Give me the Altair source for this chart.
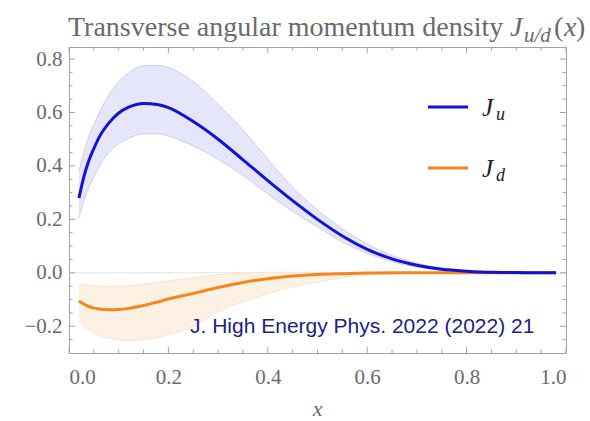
import altair as alt
import pandas as pd

# ---- data -------------------------------------------------------------
x_vals = [0.02, 0.03, 0.04, 0.05, 0.06, 0.08, 0.10, 0.12, 0.15, 0.18, 0.20,
          0.25, 0.30, 0.35, 0.40, 0.45, 0.50, 0.55, 0.60, 0.65, 0.70, 0.75,
          0.80, 0.85, 0.90, 0.95, 0.98]

ju_mid = [0.280, 0.360, 0.420, 0.465, 0.505, 0.560, 0.598, 0.620, 0.634, 0.629,
          0.618, 0.566, 0.500, 0.423, 0.345, 0.270, 0.200, 0.138, 0.088, 0.052,
          0.028, 0.013, 0.006, 0.002, 0.001, 0.000, 0.000]
ju_hi = [0.380, 0.450, 0.510, 0.555, 0.595, 0.665, 0.715, 0.748, 0.775, 0.776,
         0.768, 0.715, 0.630, 0.535, 0.425, 0.320, 0.235, 0.165, 0.108, 0.065,
         0.036, 0.018, 0.008, 0.003, 0.001, 0.000, 0.000]
ju_lo = [0.206, 0.270, 0.320, 0.360, 0.395, 0.450, 0.483, 0.503, 0.520, 0.520,
         0.512, 0.475, 0.425, 0.365, 0.295, 0.230, 0.172, 0.115, 0.073, 0.042,
         0.021, 0.010, 0.004, 0.002, 0.001, 0.000, 0.000]

jd_mid = [-0.105, -0.117, -0.126, -0.132, -0.135, -0.138, -0.137, -0.133, -0.122,
          -0.108, -0.098, -0.077, -0.055, -0.036, -0.022, -0.012, -0.006, -0.003,
          -0.001, 0.000, 0.000, 0.000, 0.000, 0.000, 0.000, 0.000, 0.000]
jd_hi = [-0.042, -0.045, -0.047, -0.049, -0.050, -0.051, -0.050, -0.048, -0.042,
         -0.035, -0.030, -0.017, -0.007, -0.001, 0.002, 0.002, 0.002, 0.001,
         0.001, 0.000, 0.000, 0.000, 0.000, 0.000, 0.000, 0.000, 0.000]
jd_lo = [-0.182, -0.200, -0.215, -0.225, -0.233, -0.245, -0.251, -0.253, -0.250,
         -0.242, -0.233, -0.200, -0.145, -0.108, -0.078, -0.053, -0.034, -0.018,
         -0.008, -0.004, -0.002, -0.001, 0.000, 0.000, 0.000, 0.000, 0.000]

x_major = [0.0, 0.2, 0.4, 0.6, 0.8, 1.0]
x_minor = [0.05, 0.10, 0.15, 0.25, 0.30, 0.35, 0.45, 0.50, 0.55, 0.65, 0.70,
           0.75, 0.85, 0.90, 0.95]
y_major = [-0.2, 0.0, 0.2, 0.4, 0.6, 0.8]
y_minor = [-0.25, -0.15, -0.10, -0.05, 0.05, 0.10, 0.15, 0.25, 0.30, 0.35,
           0.45, 0.50, 0.55, 0.65, 0.70, 0.75]

title_main = "Transverse angular momentum density"
title_sym = "J"
title_sub = "u/d"
title_arg = ["(", "x", ")"]
legend_names = ["J", "J"]
legend_subs = ["u", "d"]
source_note = "J. High Energy Phys. 2022 (2022) 21"
x_title = "x"

# ---- layout / style ---------------------------------------------------
W, H = 497, 306
BLUE, ORANGE = "#1212d4", "#f5861f"
FRAME = "#a2a2a2"
LABEL = "#6a6a6a"
SERIF = "Liberation Serif"

df = pd.DataFrame({"x": x_vals, "ju": ju_mid, "ju_hi": ju_hi, "ju_lo": ju_lo,
                   "jd": jd_mid, "jd_hi": jd_hi, "jd_lo": jd_lo})

xscale = alt.Scale(domain=[0, 1], nice=False, zero=False)
yscale = alt.Scale(domain=[-0.3, 0.845], nice=False, zero=False)
xaxis = alt.Axis(title=None, values=x_major, format=".1f", labelPadding=13)
yaxis = alt.Axis(title=None, values=y_major, format=".1f", labelPadding=7)

X = lambda f="x": alt.X(f"{f}:Q", scale=xscale, axis=xaxis)
Y = lambda f="y": alt.Y(f"{f}:Q", scale=yscale, axis=yaxis)

base = alt.Chart(df)

zero_line = alt.Chart(pd.DataFrame({"y": [0.0]})).mark_rule(
    color="#e2e2e2", strokeWidth=1).encode(
    y=Y(), x=alt.value(0), x2=alt.value(W))

def band(lo, hi, fill, edge):
    area = base.mark_area(color=fill, interpolate="monotone").encode(
        x=X(), y=Y(lo), y2=f"{hi}:Q")
    e1 = base.mark_line(color=edge, strokeWidth=1, interpolate="monotone").encode(x=X(), y=Y(lo))
    e2 = base.mark_line(color=edge, strokeWidth=1, interpolate="monotone").encode(x=X(), y=Y(hi))
    return [area, e1, e2]

layers = [zero_line]
layers += band("ju_lo", "ju_hi", "#e6e6fb", "#cdcdf3")
layers += band("jd_lo", "jd_hi", "#fdf1e4", "#fbe4cf")
layers.append(base.mark_line(color=ORANGE, strokeWidth=3, interpolate="monotone")
              .encode(x=X(), y=Y("jd")))
layers.append(base.mark_line(color=BLUE, strokeWidth=3, interpolate="monotone")
              .encode(x=X(), y=Y("ju")))

# frame ticks pointing inward on all four sides
def xticks(vals, size):
    d = alt.Chart(pd.DataFrame({"x": vals}))
    return [d.mark_rule(color=FRAME).encode(x=X(), y=alt.value(H), y2=alt.value(H - size)),
            d.mark_rule(color=FRAME).encode(x=X(), y=alt.value(0), y2=alt.value(size))]

def yticks(vals, size):
    d = alt.Chart(pd.DataFrame({"y": vals}))
    return [d.mark_rule(color=FRAME).encode(y=Y(), x=alt.value(0), x2=alt.value(size)),
            d.mark_rule(color=FRAME).encode(y=Y(), x=alt.value(W), x2=alt.value(W - size))]

layers += xticks(x_major, 6) + xticks(x_minor, 3.5)
layers += yticks(y_major, 6) + yticks(y_minor, 3.5)

def label(text, px, py, size, color, font=SERIF, style="normal", align="left"):
    return alt.Chart(pd.DataFrame({"t": [text]})).mark_text(
        font=font, fontSize=size, fontStyle=style, color=color, align=align,
        baseline="alphabetic").encode(text="t:N", x=alt.value(px), y=alt.value(py))

# legend
for i, (c, yy) in enumerate([(BLUE, 60), (ORANGE, 121)]):
    layers.append(alt.Chart(pd.DataFrame({"k": [i]})).mark_rule(
        color=c, strokeWidth=3).encode(x=alt.value(359), x2=alt.value(399), y=alt.value(yy)))
    layers.append(label(legend_names[i], 413, yy + 9, 25, "#222222", style="italic"))
    layers.append(label(legend_subs[i], 427, yy + 13, 18, "#222222", style="italic"))

# title pieces
layers.append(label(title_main, -1, -11, 28, LABEL))
layers.append(label(title_sym, 441, -11, 28, LABEL, style="italic"))
layers.append(label(title_sub, 455, -5, 21, LABEL, style="italic"))
layers.append(label(title_arg[0], 485, -11, 28, LABEL))
layers.append(label(title_arg[1], 495, -11, 28, LABEL, style="italic"))
layers.append(label(title_arg[2], 507, -11, 28, LABEL))

# axis title and source note
layers.append(label(x_title, W / 2, 369, 22, LABEL, style="italic", align="center"))
layers.append(label(source_note, 121, 286, 21, "#1c1c88", font="Liberation Sans"))

chart = alt.layer(*layers).properties(
    width=W, height=H, background="white",
    padding={"left": 69, "top": 47, "right": 24, "bottom": 68},
    autosize=alt.AutoSizeParams(type="none"),
).configure_view(stroke=FRAME, strokeWidth=1).configure_axis(
    grid=False, ticks=False, domain=False,
    labelFont=SERIF, labelFontSize=21, labelColor=LABEL,
)

chart.save("out.html", embed_options={"renderer": "svg", "actions": False})
